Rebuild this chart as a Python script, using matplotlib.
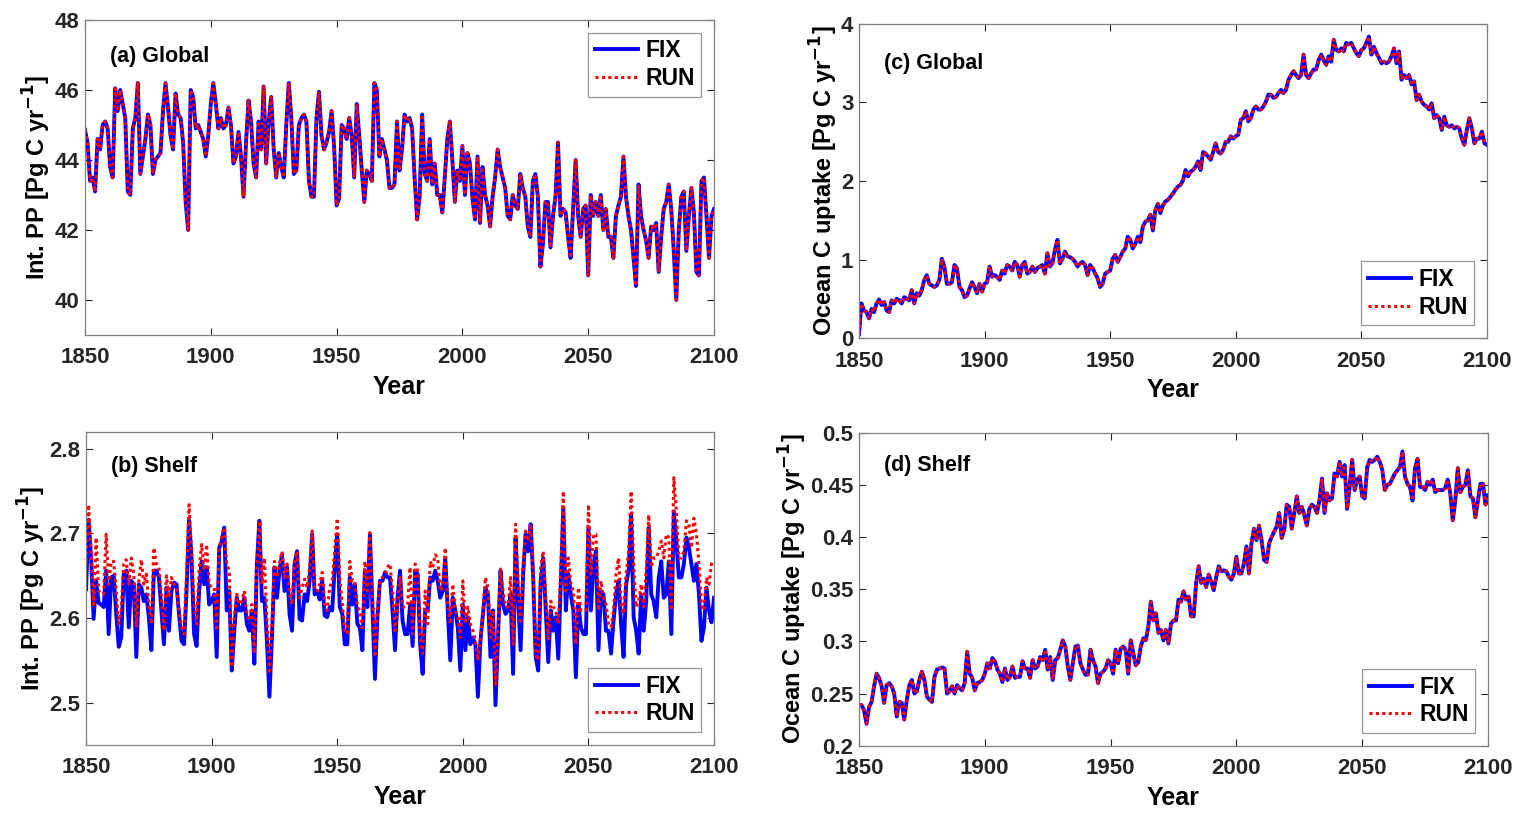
import numpy as np
import matplotlib
matplotlib.use("Agg")
import matplotlib.pyplot as plt

plt.rcParams['font.family'] = ['Liberation Sans', 'DejaVu Sans']
plt.rcParams['font.weight'] = 'bold'

years = np.arange(1850, 2101)

# (a) Global integrated PP [Pg C / yr], read per decade
fix_a = [
    44.86, 44.5, 43.4, 43.5, 43.1, 44.6, 44.3, 45.0, 45.1, 44.9,
    43.8, 43.5, 46.05, 45.4, 46.0, 45.6, 45.2, 43.1, 43.0, 44.9,
    45.2, 46.2, 43.6, 44.1, 44.6, 45.3, 45.0, 43.6, 44.0, 44.1,
    44.2, 45.4, 46.2, 45.5, 44.7, 44.3, 45.9, 45.3, 45.2, 44.5,
    42.8, 42.0, 46.0, 45.8, 44.9, 45.0, 44.8, 44.6, 44.1, 44.7,
    45.6, 46.2, 45.6, 44.9, 45.2, 44.9, 45.0, 45.5, 45.0, 43.9,
    44.1, 44.8, 44.1, 42.95, 44.5, 45.7, 45.1, 43.9, 43.5, 45.1,
    44.3, 46.1, 43.9, 45.1, 45.8, 44.3, 43.5, 44.2, 43.8, 43.5,
    45.0, 46.2, 45.2, 43.6, 43.7, 45.0, 45.2, 45.3, 45.1, 43.4,
    42.95, 42.95, 45.2, 45.95, 44.7, 44.3, 44.5, 44.8, 45.4, 44.4,
    42.7, 42.9, 45.0, 44.9, 44.6, 45.2, 44.7, 43.5, 45.6, 44.7,
    43.7, 42.8, 43.7, 43.6, 43.4, 46.2, 46.0, 44.1, 44.6, 44.3,
    44.0, 43.2, 43.2, 43.3, 45.1, 43.7, 44.3, 45.3, 45.1, 45.2,
    44.9, 43.5, 42.3, 42.95, 45.3, 43.6, 43.4, 44.6, 43.3, 43.9,
    43.0, 43.0, 42.5, 43.5, 44.6, 45.1, 44.0, 42.8, 43.7, 43.4,
    44.4, 43.0, 44.2, 43.9, 42.9, 42.3, 44.1, 42.2, 43.8, 43.0,
    42.7, 42.1, 42.95, 43.5, 44.3, 43.8, 43.5, 43.2, 42.4, 42.3,
    43.0, 42.7, 42.6, 43.6, 43.2, 42.95, 42.1, 41.8, 43.4, 43.6,
    42.95, 40.95, 41.6, 42.8, 42.8, 41.5, 42.4, 42.95, 44.5, 42.4,
    42.6, 42.5, 41.8, 41.2, 42.6, 44.0, 42.4, 41.8, 42.6, 42.7,
    40.7, 43.0, 42.4, 42.8, 42.4, 43.0, 42.0, 42.6, 41.8, 41.8,
    41.2, 42.4, 42.7, 42.95, 44.1, 42.95, 42.4, 42.0, 41.2, 40.4,
    43.3, 42.4, 42.0, 41.7, 41.2, 42.1, 42.0, 42.2, 40.8, 41.8,
    42.6, 42.8, 43.3, 42.6, 41.4, 40.0, 42.0, 42.95, 43.1, 41.4,
    42.4, 43.2, 42.5, 40.8, 40.7, 43.4, 43.5, 42.4, 41.2, 42.4,
    42.6,
]
# RUN lies on top of FIX in the global PP panel
run_a = [v for v in fix_a]

# (b) Shelf integrated PP
fix_b = [
    2.634, 2.716, 2.671, 2.599, 2.644, 2.618, 2.616, 2.613, 2.656, 2.581,
    2.648, 2.650, 2.605, 2.566, 2.577, 2.652, 2.656, 2.589, 2.644, 2.640,
    2.554, 2.640, 2.636, 2.620, 2.628, 2.601, 2.562, 2.656, 2.656, 2.648,
    2.609, 2.569, 2.636, 2.585, 2.632, 2.642, 2.640, 2.605, 2.573, 2.569,
    2.632, 2.716, 2.671, 2.581, 2.567, 2.632, 2.667, 2.640, 2.660, 2.616,
    2.620, 2.628, 2.554, 2.683, 2.691, 2.707, 2.609, 2.632, 2.538, 2.585,
    2.624, 2.609, 2.609, 2.624, 2.593, 2.585, 2.609, 2.546, 2.664, 2.715,
    2.620, 2.624, 2.573, 2.507, 2.577, 2.660, 2.624, 2.656, 2.675, 2.632,
    2.660, 2.605, 2.585, 2.664, 2.679, 2.599, 2.597, 2.628, 2.620, 2.644,
    2.699, 2.628, 2.632, 2.622, 2.644, 2.603, 2.601, 2.613, 2.609, 2.660,
    2.699, 2.613, 2.605, 2.569, 2.569, 2.648, 2.616, 2.640, 2.593, 2.589,
    2.562, 2.656, 2.613, 2.699, 2.613, 2.528, 2.601, 2.644, 2.644, 2.654,
    2.648, 2.648, 2.609, 2.562, 2.624, 2.656, 2.597, 2.581, 2.581, 2.616,
    2.567, 2.656, 2.652, 2.569, 2.534, 2.609, 2.609, 2.648, 2.644, 2.656,
    2.644, 2.624, 2.632, 2.671, 2.609, 2.550, 2.624, 2.609, 2.589, 2.538,
    2.616, 2.562, 2.601, 2.569, 2.577, 2.569, 2.507, 2.573, 2.605, 2.636,
    2.628, 2.554, 2.609, 2.497, 2.577, 2.656, 2.616, 2.605, 2.609, 2.628,
    2.534, 2.695, 2.624, 2.562, 2.652, 2.699, 2.679, 2.711, 2.648, 2.554,
    2.538, 2.644, 2.671, 2.609, 2.548, 2.609, 2.585, 2.601, 2.552, 2.640,
    2.730, 2.609, 2.652, 2.628, 2.609, 2.530, 2.616, 2.589, 2.581, 2.581,
    2.707, 2.609, 2.664, 2.679, 2.562, 2.632, 2.628, 2.585, 2.585, 2.558,
    2.597, 2.628, 2.644, 2.593, 2.554, 2.640, 2.656, 2.722, 2.601, 2.585,
    2.558, 2.628, 2.585, 2.620, 2.707, 2.628, 2.620, 2.601, 2.648, 2.667,
    2.624, 2.628, 2.667, 2.581, 2.726, 2.691, 2.648, 2.648, 2.664, 2.695,
    2.683, 2.664, 2.644, 2.664, 2.628, 2.573, 2.589, 2.636, 2.609, 2.595,
    2.624,
]
run_b = [
    2.667, 2.734, 2.679, 2.616, 2.695, 2.632, 2.630, 2.628, 2.699, 2.640,
    2.667, 2.667, 2.632, 2.593, 2.609, 2.664, 2.669, 2.640, 2.671, 2.652,
    2.589, 2.644, 2.669, 2.640, 2.652, 2.616, 2.593, 2.683, 2.664, 2.660,
    2.624, 2.585, 2.650, 2.624, 2.648, 2.640, 2.636, 2.609, 2.589, 2.581,
    2.652, 2.734, 2.679, 2.616, 2.593, 2.656, 2.687, 2.656, 2.687, 2.640,
    2.636, 2.636, 2.585, 2.683, 2.695, 2.707, 2.664, 2.656, 2.542, 2.601,
    2.628, 2.616, 2.620, 2.632, 2.605, 2.597, 2.616, 2.558, 2.660, 2.715,
    2.640, 2.671, 2.597, 2.534, 2.593, 2.667, 2.648, 2.664, 2.679, 2.648,
    2.664, 2.628, 2.616, 2.664, 2.679, 2.624, 2.636, 2.646, 2.636, 2.660,
    2.703, 2.632, 2.632, 2.640, 2.654, 2.616, 2.609, 2.636, 2.644, 2.679,
    2.718, 2.648, 2.616, 2.585, 2.581, 2.667, 2.644, 2.644, 2.613, 2.609,
    2.585, 2.667, 2.632, 2.701, 2.628, 2.554, 2.609, 2.644, 2.648, 2.652,
    2.660, 2.664, 2.632, 2.585, 2.616, 2.648, 2.613, 2.613, 2.616, 2.660,
    2.581, 2.664, 2.656, 2.577, 2.558, 2.632, 2.593, 2.667, 2.660, 2.675,
    2.671, 2.632, 2.636, 2.683, 2.616, 2.593, 2.640, 2.609, 2.601, 2.577,
    2.644, 2.593, 2.613, 2.593, 2.585, 2.573, 2.550, 2.573, 2.609, 2.648,
    2.636, 2.577, 2.609, 2.522, 2.581, 2.658, 2.632, 2.613, 2.613, 2.648,
    2.569, 2.711, 2.640, 2.593, 2.664, 2.703, 2.691, 2.711, 2.656, 2.558,
    2.550, 2.660, 2.679, 2.624, 2.573, 2.620, 2.613, 2.609, 2.593, 2.656,
    2.750, 2.632, 2.671, 2.640, 2.632, 2.569, 2.636, 2.609, 2.609, 2.609,
    2.734, 2.652, 2.699, 2.699, 2.609, 2.644, 2.624, 2.616, 2.593, 2.589,
    2.609, 2.652, 2.671, 2.616, 2.605, 2.652, 2.679, 2.750, 2.664, 2.613,
    2.620, 2.640, 2.613, 2.656, 2.722, 2.660, 2.671, 2.671, 2.679, 2.691,
    2.671, 2.699, 2.695, 2.609, 2.766, 2.726, 2.671, 2.671, 2.679, 2.715,
    2.711, 2.683, 2.718, 2.699, 2.664, 2.616, 2.609, 2.648, 2.640, 2.664,
    2.660,
]

# (c) Global ocean C uptake [Pg C / yr]
fix_c = [
    0.05, 0.44, 0.35, 0.33, 0.25, 0.37, 0.33, 0.44, 0.49, 0.42,
    0.46, 0.35, 0.33, 0.48, 0.44, 0.50, 0.48, 0.44, 0.52, 0.50,
    0.48, 0.61, 0.44, 0.57, 0.54, 0.61, 0.74, 0.80, 0.69, 0.67,
    0.65, 0.67, 0.74, 1.01, 0.91, 0.69, 0.69, 0.71, 0.93, 0.89,
    0.65, 0.61, 0.52, 0.54, 0.63, 0.71, 0.65, 0.57, 0.69, 0.59,
    0.69, 0.71, 0.91, 0.78, 0.80, 0.78, 0.74, 0.86, 0.82, 0.93,
    0.91, 0.86, 0.97, 0.93, 0.78, 0.93, 0.97, 0.82, 0.84, 0.91,
    0.84, 0.89, 0.91, 0.93, 0.82, 1.08, 0.91, 0.95, 1.12, 1.25,
    0.95, 1.01, 1.10, 1.04, 1.03, 1.01, 0.97, 0.91, 0.95, 0.97,
    0.93, 0.80, 0.93, 0.89, 0.82, 0.76, 0.65, 0.69, 0.82, 0.84,
    0.86, 1.01, 1.06, 0.97, 1.03, 1.10, 1.14, 1.29, 1.25, 1.14,
    1.20, 1.29, 1.22, 1.42, 1.48, 1.50, 1.57, 1.37, 1.63, 1.71,
    1.59, 1.69, 1.74, 1.76, 1.80, 1.84, 1.89, 1.93, 1.95, 2.01,
    2.14, 2.06, 2.12, 2.14, 2.18, 2.25, 2.14, 2.37, 2.35, 2.31,
    2.27, 2.37, 2.48, 2.37, 2.35, 2.40, 2.50, 2.50, 2.57, 2.54,
    2.57, 2.59, 2.78, 2.80, 2.89, 2.76, 2.80, 2.91, 2.95, 2.91,
    2.91, 2.95, 3.01, 3.10, 3.10, 3.06, 3.07, 3.12, 3.16, 3.12,
    3.16, 3.29, 3.35, 3.40, 3.35, 3.31, 3.35, 3.61, 3.35, 3.31,
    3.37, 3.42, 3.42, 3.54, 3.61, 3.54, 3.48, 3.59, 3.52, 3.80,
    3.67, 3.65, 3.69, 3.65, 3.76, 3.74, 3.76, 3.69, 3.63, 3.59,
    3.67, 3.69, 3.76, 3.84, 3.61, 3.71, 3.63, 3.57, 3.50, 3.52,
    3.50, 3.52, 3.59, 3.69, 3.50, 3.65, 3.29, 3.35, 3.31, 3.35,
    3.23, 3.27, 3.03, 3.10, 3.01, 2.97, 2.95, 2.91, 2.99, 2.80,
    2.84, 2.80, 2.65, 2.82, 2.71, 2.69, 2.71, 2.67, 2.69, 2.67,
    2.54, 2.46, 2.65, 2.80, 2.67, 2.48, 2.54, 2.54, 2.63, 2.48,
    2.46,
]
run_c = [v for v in fix_c]

# (d) Shelf ocean C uptake [Pg C / yr]
fix_d = [
    0.239, 0.239, 0.234, 0.221, 0.237, 0.242, 0.257, 0.269, 0.265, 0.257,
    0.241, 0.258, 0.260, 0.257, 0.250, 0.228, 0.242, 0.241, 0.225, 0.244,
    0.258, 0.263, 0.250, 0.252, 0.263, 0.271, 0.263, 0.247, 0.244, 0.242,
    0.266, 0.273, 0.274, 0.275, 0.274, 0.250, 0.252, 0.257, 0.250, 0.258,
    0.255, 0.253, 0.260, 0.290, 0.269, 0.265, 0.253, 0.260, 0.261, 0.263,
    0.269, 0.279, 0.274, 0.284, 0.281, 0.273, 0.269, 0.261, 0.274, 0.263,
    0.266, 0.276, 0.265, 0.266, 0.266, 0.281, 0.274, 0.274, 0.265, 0.282,
    0.274, 0.276, 0.285, 0.282, 0.292, 0.273, 0.285, 0.263, 0.282, 0.284,
    0.292, 0.301, 0.295, 0.276, 0.263, 0.279, 0.295, 0.296, 0.279, 0.273,
    0.268, 0.268, 0.292, 0.282, 0.276, 0.260, 0.269, 0.271, 0.274, 0.282,
    0.279, 0.269, 0.292, 0.279, 0.293, 0.295, 0.292, 0.269, 0.301, 0.289,
    0.277, 0.280, 0.295, 0.303, 0.301, 0.314, 0.338, 0.320, 0.327, 0.308,
    0.311, 0.301, 0.311, 0.298, 0.317, 0.320, 0.320, 0.340, 0.338, 0.348,
    0.340, 0.343, 0.324, 0.324, 0.356, 0.372, 0.356, 0.360, 0.352, 0.364,
    0.357, 0.349, 0.362, 0.372, 0.367, 0.368, 0.367, 0.362, 0.359, 0.365,
    0.381, 0.365, 0.365, 0.375, 0.391, 0.365, 0.394, 0.408, 0.397, 0.411,
    0.397, 0.378, 0.376, 0.394, 0.400, 0.405, 0.410, 0.423, 0.399, 0.407,
    0.431, 0.429, 0.408, 0.423, 0.439, 0.423, 0.429, 0.421, 0.411, 0.427,
    0.431, 0.429, 0.423, 0.435, 0.456, 0.423, 0.442, 0.435, 0.437, 0.461,
    0.458, 0.472, 0.458, 0.469, 0.427, 0.448, 0.474, 0.445, 0.455, 0.458,
    0.439, 0.437, 0.467, 0.474, 0.472, 0.474, 0.477, 0.472, 0.464, 0.445,
    0.450, 0.451, 0.456, 0.461, 0.464, 0.467, 0.482, 0.458, 0.451, 0.448,
    0.435, 0.466, 0.475, 0.448, 0.448, 0.445, 0.453, 0.450, 0.455, 0.443,
    0.445, 0.445, 0.445, 0.447, 0.455, 0.442, 0.416, 0.435, 0.466, 0.443,
    0.448, 0.450, 0.464, 0.439, 0.437, 0.419, 0.435, 0.451, 0.451, 0.431,
    0.440,
]
run_d = [v for v in fix_d]

panels = [
    # fix, run, [l, b, w, h], ylim, yticks, ylabel, tag, legend loc, tag y
    (fix_a, run_a, [0.0557, 0.5910, 0.4122, 0.3846], (39, 48), [40, 42, 44, 46, 48],
     'Int. PP [Pg C yr$^{\\mathbf{-1}}$]', '(a) Global', 'upper right', 0.883),
    (fix_b, run_b, [0.0564, 0.0904, 0.4115, 0.3822], (2.45, 2.82), [2.5, 2.6, 2.7, 2.8],
     'Int. PP [Pg C yr$^{\\mathbf{-1}}$]', '(b) Shelf', 'lower right', 0.888),
    (fix_c, run_c, [0.5629, 0.5873, 0.4115, 0.3834], (0, 4), [0, 1, 2, 3, 4],
     'Ocean C uptake [Pg C yr$^{\\mathbf{-1}}$]', '(c) Global', 'lower right', 0.873),
    (fix_d, run_d, [0.5629, 0.0895, 0.4122, 0.3822], (0.2, 0.5),
     [0.2, 0.25, 0.3, 0.35, 0.4, 0.45, 0.5],
     'Ocean C uptake [Pg C yr$^{\\mathbf{-1}}$]', '(d) Shelf', 'lower right', 0.895),
]

fig = plt.figure(figsize=(15.26, 8.19), dpi=100)

for fix, run, pos, ylim, yticks, ylabel, tag, loc, tag_y in panels:
    ax = fig.add_axes(pos)
    ax.plot(years, fix, color='#0000ff', lw=2.8, label='FIX')
    ax.plot(years, run, color='#ff0000', lw=2.2, ls=(0, (1, 1.1)), label='RUN')
    ax.set_xlim(1850, 2100)
    ax.set_ylim(*ylim)
    ax.set_xticks([1850, 1900, 1950, 2000, 2050, 2100])
    ax.set_yticks(yticks)
    ax.set_yticklabels([f'{t:g}' for t in yticks])
    ax.tick_params(direction='in', length=5, width=0.8, top=True, right=True,
                   labelsize=16, colors='#262626')
    ax.tick_params(axis='x', pad=9)
    ax.tick_params(axis='y', pad=4)
    for lab in ax.get_xticklabels() + ax.get_yticklabels():
        lab.set_fontweight('bold')
    for s in ax.spines.values():
        s.set_color('#7f7f7f')
        s.set_linewidth(0.9)
    ax.set_xlabel('Year', fontsize=18, fontweight='bold', labelpad=5)
    ax.set_ylabel(ylabel, fontsize=17, fontweight='bold', labelpad=1)
    ax.text(0.04, tag_y, tag, transform=ax.transAxes, fontsize=15.5,
            fontweight='bold', va='center', ha='left')
    leg = ax.legend(loc=loc, fontsize=16.5, frameon=True, fancybox=False,
                    handlelength=1.9, handletextpad=0.3, borderpad=0.3,
                    labelspacing=0.2, borderaxespad=0.55)
    leg.get_frame().set_edgecolor('#7f7f7f')
    leg.get_frame().set_linewidth(0.9)
    for t in leg.get_texts():
        t.set_fontweight('bold')

fig.savefig('out.png', dpi=100)
